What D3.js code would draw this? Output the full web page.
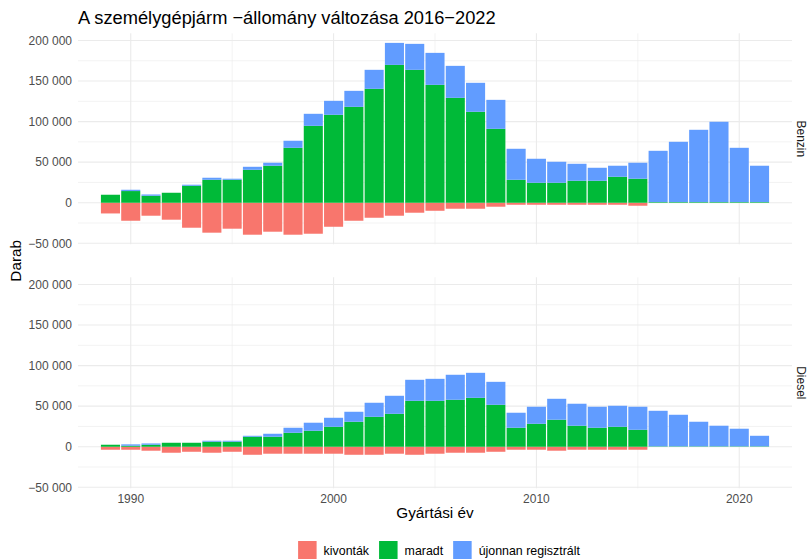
<!DOCTYPE html>
<html>
<head>
<meta charset="utf-8">
<script src="https://cdn.jsdelivr.net/npm/d3@7"></script>
<style>
	body { margin: 0; background: #fff; }
	text { font-family: "Liberation Sans", Arial, sans-serif; }
</style>
</head>
<body>
<svg id="svg1" width="809" height="559"></svg>
<script>
// Gyártási évek
var years = [1989, 1990, 1991, 1992, 1993, 1994, 1995, 1996, 1997, 1998, 1999,
	2000, 2001, 2002, 2003, 2004, 2005, 2006, 2007, 2008, 2009, 2010,
	2011, 2012, 2013, 2014, 2015, 2016, 2017, 2018, 2019, 2020, 2021];

var facets = ["Benzin", "Diesel"];
var seriesNames = ["kivonták", "maradt", "újonnan regisztrált"];

// Benzin
var benzinKivontak = [-13200, -22200, -16000, -20900, -30800, -36900, -32000, -39400, -35700, -39400, -38200,
	-29600, -22200, -18500, -16000, -12300, -9900, -7400, -7400, -4900, -2500, -2500,
	-2500, -2500, -2500, -2500, -3700, 0, 0, 0, 0, 0, 0];
var benzinMaradt = [9850, 14400, 8600, 12300, 20900, 28300, 28300, 40600, 45600, 67700, 94800,
	108400, 118200, 140400, 169900, 163800, 145300, 129300, 112100, 91100, 28300, 24600,
	24600, 27100, 27100, 32000, 29600, 800, 800, 800, 800, 800, 800];
var benzinUj = [0, 1600, 1600, 0, 1300, 2500, 1300, 3700, 3700, 8700, 14800,
	17200, 19700, 23400, 27100, 32000, 39400, 39400, 35700, 35700, 38200, 29600,
	25900, 20900, 16000, 13600, 19700, 63200, 74300, 89100, 99000, 66900, 44800];

// Diesel
var dieselKivontak = [-3700, -3700, -4900, -7400, -6200, -7400, -6200, -9900, -8600, -8600, -8600,
	-8600, -9900, -9900, -8600, -9900, -8600, -7400, -7400, -6200, -3700, -3700,
	-4900, -3700, -3700, -3700, -3700, 0, 0, 0, 0, 0, 0];
var dieselMaradt = [2460, 1230, 2460, 4900, 4900, 6200, 6200, 12300, 12300, 17200, 19700,
	24600, 30800, 36900, 40600, 56600, 56600, 57900, 60300, 51700, 23400, 28300,
	33300, 25900, 23400, 24600, 20900, 500, 500, 500, 500, 500, 500];
var dieselUj = [0, 1700, 1600, 0, 0, 1200, 1200, 1200, 3700, 6200, 9900,
	11100, 12300, 17300, 22200, 25900, 27100, 30800, 30800, 28300, 18500, 21000,
	25800, 27100, 25900, 25900, 28400, 43800, 38900, 30300, 25400, 21700, 13000];

var svg1 = d3.select("#svg1"),
	margin = {top: 33.3, left: 78, right: 17},
	width = +svg1.attr("width") - margin.left - margin.right,
	panelH = 211,
	panelGap = 33;

var colors = d3.scaleOrdinal()
	.domain(seriesNames)
	.range(["#F8766D", "#00BA38", "#619CFF"]);

// rows per facet
function buildRows(kiv, mar, uj) {
	return years.map(function(y, i) {
		return {year: y, kiv: kiv[i], mar: mar[i], uj: uj[i]};
	});
}
var panels = [
	{name: facets[0], rows: buildRows(benzinKivontak, benzinMaradt, benzinUj)},
	{name: facets[1], rows: buildRows(dieselKivontak, dieselMaradt, dieselUj)}
];

var fmt = d3.formatLocale({decimal: ",", thousands: " ", grouping: [3], currency: ["", ""], minus: "\u2212"}).format(",");

// x scale, 5% expansion
var xMin = d3.min(years), xMax = d3.max(years), xPad = (xMax - xMin) * 0.05;
var x = d3.scaleLinear()
	.domain([xMin - xPad, xMax + xPad])
	.range([margin.left, margin.left + width]);
var barW = (x(1) - x(0)) * 0.94;

// shared y domain, 5% expansion
var yHi = d3.max(panels, function(p) { return d3.max(p.rows, function(d) { return d.mar + d.uj; }); });
var yLo = d3.min(panels, function(p) { return d3.min(p.rows, function(d) { return d.kiv; }); });
var yPad = (yHi - yLo) * 0.05;

var xTicks = x.ticks(4);
var xMinor = [];
for (var i = 0; i < xTicks.length - 1; i++) xMinor.push((xTicks[i] + xTicks[i + 1]) / 2);

// title
svg1.append("text")
	.attr("x", margin.left)
	.attr("y", 23.5)
	.attr("font-size", 18.3)
	.attr("fill", "#000")
	.text("A személygépjárm \u2212állomány változása 2016\u22122022");

panels.forEach(function(p, pi) {
	var top = margin.top + pi * (panelH + panelGap);
	var y = d3.scaleLinear()
		.domain([yLo - yPad, yHi + yPad])
		.range([top + panelH, top]);

	var yTicks = y.ticks(5);
	var yMinor = [];
	for (var i = 0; i < yTicks.length - 1; i++) yMinor.push((yTicks[i] + yTicks[i + 1]) / 2);

	var g = svg1.append("g");

	// grid
	g.selectAll(".hminor").data(yMinor).enter().append("line")
		.attr("x1", margin.left).attr("x2", margin.left + width)
		.attr("y1", function(d) { return y(d); }).attr("y2", function(d) { return y(d); })
		.attr("stroke", "#ebebeb").attr("stroke-width", 0.6);
	g.selectAll(".vminor").data(xMinor).enter().append("line")
		.attr("x1", function(d) { return x(d); }).attr("x2", function(d) { return x(d); })
		.attr("y1", top).attr("y2", top + panelH)
		.attr("stroke", "#ebebeb").attr("stroke-width", 0.6);
	g.selectAll(".hmajor").data(yTicks).enter().append("line")
		.attr("x1", margin.left).attr("x2", margin.left + width)
		.attr("y1", function(d) { return y(d); }).attr("y2", function(d) { return y(d); })
		.attr("stroke", "#ebebeb").attr("stroke-width", 1.1);
	g.selectAll(".vmajor").data(xTicks).enter().append("line")
		.attr("x1", function(d) { return x(d); }).attr("x2", function(d) { return x(d); })
		.attr("y1", top).attr("y2", top + panelH)
		.attr("stroke", "#ebebeb").attr("stroke-width", 1.1);

	// bars
	var bars = g.selectAll(".bar").data(p.rows).enter().append("g").attr("class", "bar");
	bars.append("rect")
		.attr("x", function(d) { return x(d.year) - barW / 2; })
		.attr("width", barW)
		.attr("y", y(0))
		.attr("height", function(d) { return y(d.kiv) - y(0); })
		.attr("fill", colors(seriesNames[0]));
	bars.append("rect")
		.attr("x", function(d) { return x(d.year) - barW / 2; })
		.attr("width", barW)
		.attr("y", function(d) { return y(d.mar); })
		.attr("height", function(d) { return y(0) - y(d.mar); })
		.attr("fill", colors(seriesNames[1]));
	bars.append("rect")
		.attr("x", function(d) { return x(d.year) - barW / 2; })
		.attr("width", barW)
		.attr("y", function(d) { return y(d.mar + d.uj); })
		.attr("height", function(d) { return y(d.mar) - y(d.mar + d.uj); })
		.attr("fill", colors(seriesNames[2]));

	// y tick labels
	g.selectAll(".ylab").data(yTicks).enter().append("text")
		.attr("x", 72)
		.attr("y", function(d) { return y(d); })
		.attr("dy", "0.35em")
		.attr("text-anchor", "end")
		.attr("font-size", 12)
		.attr("fill", "#4d4d4d")
		.text(function(d) { return fmt(d); });

	// strip
	g.append("text")
		.attr("transform", "translate(797," + (top + panelH / 2) + ") rotate(90)")
		.attr("text-anchor", "middle")
		.attr("font-size", 12)
		.attr("fill", "#1a1a1a")
		.text(p.name);

	// x tick labels on the last panel
	if (pi == panels.length - 1) {
		g.selectAll(".xlab").data(xTicks).enter().append("text")
			.attr("x", function(d) { return x(d); })
			.attr("y", top + panelH + 15)
			.attr("text-anchor", "middle")
			.attr("font-size", 12)
			.attr("fill", "#4d4d4d")
			.text(function(d) { return d; });
	}
});

// axis titles
svg1.append("text")
	.attr("x", margin.left + width / 2)
	.attr("y", 518)
	.attr("text-anchor", "middle")
	.attr("font-size", 15.3)
	.text("Gyártási év");

svg1.append("text")
	.attr("transform", "translate(20.5," + (margin.top + panelH + panelGap / 2) + ") rotate(-90)")
	.attr("text-anchor", "middle")
	.attr("font-size", 15.3)
	.text("Darab");

// legend
var legend = svg1.append("g");
var keySize = 18.5, keyGap = 7, itemGap = 10;
var items = legend.selectAll("g").data(seriesNames).enter().append("g");
items.append("rect")
	.attr("width", keySize).attr("height", keySize)
	.attr("fill", function(d) { return colors(d); });
items.append("text")
	.attr("x", keySize + keyGap)
	.attr("y", keySize / 2)
	.attr("dy", "0.35em")
	.attr("font-size", 12.4)
	.attr("fill", "#000")
	.text(function(d) { return d; });

var xpos = 0;
items.each(function() {
	var w = keySize + keyGap + this.querySelector("text").getComputedTextLength();
	d3.select(this).attr("transform", "translate(" + xpos + ",0)");
	xpos += w + itemGap;
});
var total = xpos - itemGap;
legend.attr("transform", "translate(" + (439 - total / 2) + ",541)");
</script>
</body>
</html>
